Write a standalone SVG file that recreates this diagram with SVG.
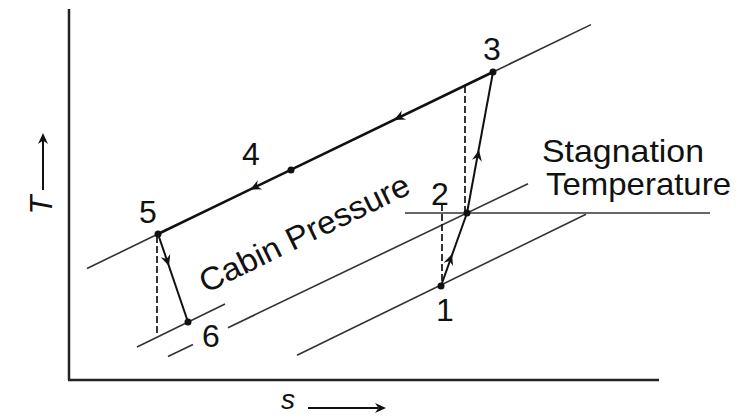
<svg xmlns="http://www.w3.org/2000/svg" width="746" height="416" viewBox="0 0 746 416">
<style>
  .axis{stroke:#222;stroke-width:2.5;fill:none}
  .thin{stroke:#333;stroke-width:1.6;fill:none}
  .thick{stroke:#111;stroke-width:2.6;fill:none}
  .proc{stroke:#111;stroke-width:2;fill:none}
  .dash{stroke:#111;stroke-width:1.7;fill:none;stroke-dasharray:7 3}
  .stag{stroke:#666;stroke-width:2;fill:none}
  .lbl{font-family:"Liberation Sans",Arial,sans-serif;font-size:32px;fill:#111}
  .ital{font-family:"Liberation Sans",Arial,sans-serif;font-size:31px;font-style:italic;fill:#111}
  .dot{fill:#111}
</style>
<defs>
  <path id="ah" d="M0,0 L-11,-5 L-7.5,0 L-11,5 Z" fill="#111"/>
</defs>
<rect width="746" height="416" fill="#fff"/>
<g id="axes">
  <line class="axis" x1="69" y1="9" x2="69" y2="380"/>
  <line class="axis" x1="68" y1="380" x2="659" y2="380"/>
  <line class="proc" x1="43" y1="190" x2="43" y2="140"/>
  <use href="#ah" transform="translate(43,133) rotate(-90)"/>
  <line class="proc" x1="308" y1="408" x2="378" y2="408"/>
  <use href="#ah" transform="translate(386,408)"/>
  <text class="ital" transform="translate(52,205) rotate(-90)" text-anchor="middle">T</text>
  <text class="ital" x="288" y="409" text-anchor="middle" style="font-size:28px">s</text>
</g>
<g id="connectors">
  <line class="thin" x1="87" y1="268.5" x2="158" y2="234"/>
  <line class="thin" x1="493" y1="72" x2="591" y2="24.6"/>
  <line class="thick" x1="158" y1="234" x2="493" y2="72"/>
  <line class="thin" x1="168" y1="356.5" x2="193" y2="344.5"/>
  <line class="thin" x1="228" y1="327.7" x2="528" y2="183.7"/>
  <line class="thin" x1="137" y1="347" x2="225" y2="304"/>
  <line class="thin" x1="297" y1="355.3" x2="586" y2="214.2"/>
  <line class="stag" x1="405" y1="213" x2="710" y2="213"/>
  <line class="dash" x1="465" y1="86" x2="465" y2="213"/>
  <line class="dash" x1="442" y1="204" x2="442" y2="285"/>
  <line class="dash" x1="157" y1="236" x2="157" y2="334"/>
  <line class="proc" x1="441" y1="286" x2="467" y2="213"/>
  <line class="proc" x1="467" y1="213" x2="493" y2="72"/>
  <line class="proc" x1="158" y1="234" x2="188" y2="322"/>
  <use href="#ah" transform="translate(250,189.6) rotate(154.2)"/>
  <use href="#ah" transform="translate(394,119.9) rotate(154.2)"/>
  <use href="#ah" transform="translate(452,254) rotate(-70.6)"/>
  <use href="#ah" transform="translate(479,150) rotate(-79.2)"/>
  <use href="#ah" transform="translate(169,266) rotate(71.4)"/>
</g>
<g id="p1"><circle class="dot" cx="441" cy="286" r="3.5"/><text class="lbl" x="445" y="321" text-anchor="middle">1</text></g>
<g id="p2"><circle class="dot" cx="467" cy="213" r="3.5"/><text class="lbl" x="440" y="205" text-anchor="middle">2</text></g>
<g id="p3"><circle class="dot" cx="493" cy="72" r="3.5"/><text class="lbl" x="492" y="60" text-anchor="middle">3</text></g>
<g id="p4"><circle class="dot" cx="291" cy="170" r="3.5"/><text class="lbl" x="251" y="165" text-anchor="middle">4</text></g>
<g id="p5"><circle class="dot" cx="158" cy="234" r="3.5"/><text class="lbl" x="148" y="223" text-anchor="middle">5</text></g>
<g id="p6"><circle class="dot" cx="188" cy="322" r="3.5"/><text class="lbl" x="211" y="347" text-anchor="middle">6</text></g>
<g id="labels">
  <text class="lbl" x="542" y="162" textLength="162" lengthAdjust="spacingAndGlyphs">Stagnation</text>
  <text class="lbl" x="546" y="195" textLength="185" lengthAdjust="spacingAndGlyphs">Temperature</text>
  <text class="lbl" transform="translate(309,243) rotate(-26)" text-anchor="middle" textLength="230" lengthAdjust="spacingAndGlyphs">Cabin Pressure</text>
</g>
</svg>
